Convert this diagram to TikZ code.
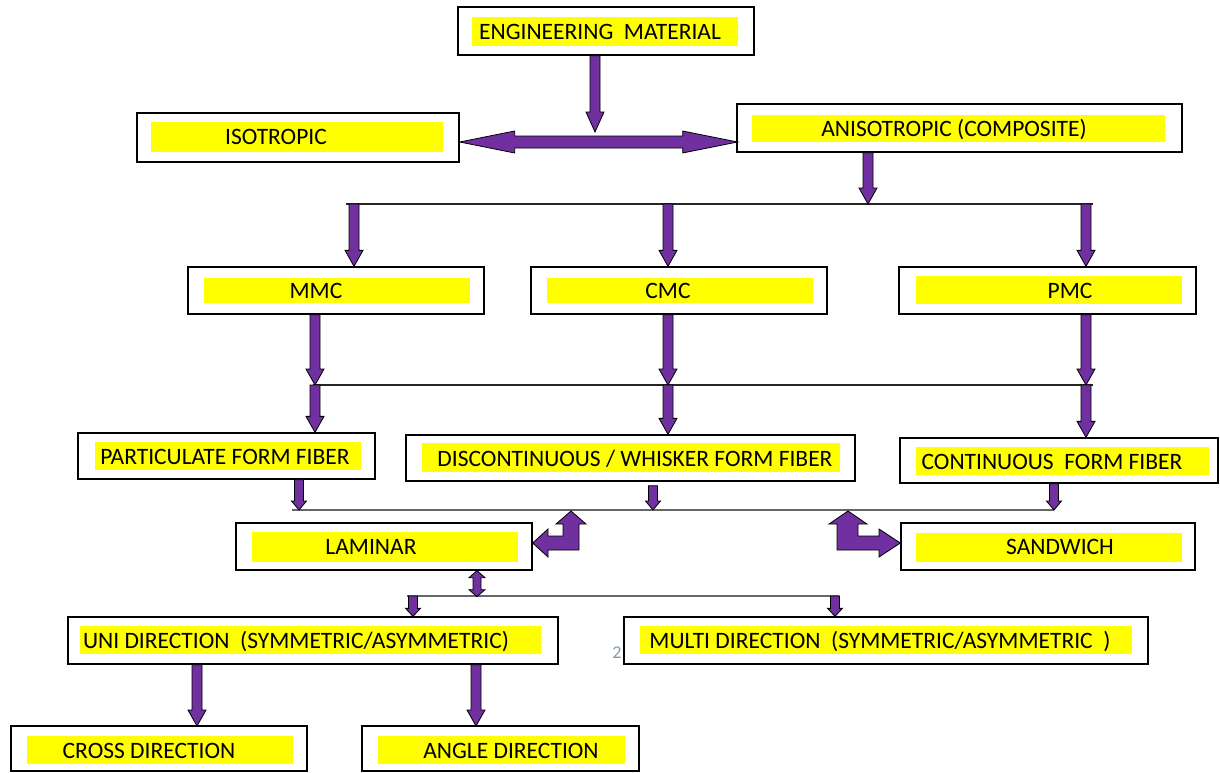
\documentclass[tikz,border=0pt]{standalone}
\usepackage{fontspec}
\setmainfont{Carlito}
\usetikzlibrary{calc}
\definecolor{arrowpurple}{HTML}{7030A0}
\definecolor{hly}{HTML}{FFFF00}
\definecolor{numgray}{RGB}{132,151,176}
% block arrow pointing down: x taken from end point, y from start to end
\newcommand\blockdown[3][16]{\filldraw[blk] let \p1=#2, \p2=#3 in
  (\x2-5pt,\y1) -- (\x2+5pt,\y1) -- (\x2+5pt,\y2+#1pt) -- (\x2+9pt,\y2+#1pt) -- (\x2,\y2)
  -- (\x2-9pt,\y2+#1pt) -- (\x2-5pt,\y2+#1pt) -- cycle;}
\newcommand\smalldown[3][9]{\filldraw[blk] let \p1=#2, \p2=#3 in
  (\x2-4.5pt,\y1) -- (\x2+4.5pt,\y1) -- (\x2+4.5pt,\y2+#1pt) -- (\x2+7.5pt,\y2+#1pt) -- (\x2,\y2)
  -- (\x2-7.5pt,\y2+#1pt) -- (\x2-4.5pt,\y2+#1pt) -- cycle;}
\begin{document}
\begin{tikzpicture}[x=1pt,y=-1pt,
  box/.style={draw=black,line width=1.3pt,fill=white,inner sep=0pt},
  hl/.style={fill=hly},
  lbl/.style={inner sep=0pt,text height=15pt,text depth=0pt,font=\fontsize{23.5}{27}\selectfont},
  blk/.style={fill=arrowpurple,draw=black,line width=0.8pt,line join=miter},
  bus/.style={draw=black!85,line width=1.4pt},
  busg/.style={draw=black!60,line width=1.8pt}]
\useasboundingbox (0,0) rectangle (1220,772);

% ---------- boxes ----------
\node[box,minimum width=296pt,minimum height=48pt] (eng) at (606,31) {};
\fill[hl] (472,17) rectangle (738,46);
\node[lbl] (engT) at (600,31.5) {ENGINEERING\ \ MATERIAL};

\node[box,minimum width=322pt,minimum height=49pt] (iso) at (298,137.5) {};
\fill[hl] (151,122) rectangle (443,152);
\node[lbl] (isoT) at (276,137) {ISOTROPIC};

\node[box,minimum width=445pt,minimum height=48pt] (aniso) at (959.5,128) {};
\fill[hl] (752,115) rectangle (1165,142);
\node[lbl] (anisoT) at (954,129) {ANISOTROPIC (COMPOSITE)};

\node[box,minimum width=296pt,minimum height=47pt] (mmc) at (336,290.5) {};
\fill[hl] (204,278) rectangle (470,303);
\node[lbl] (mmcT) at (316,291) {MMC};

\node[box,minimum width=296pt,minimum height=47pt] (cmc) at (679,290.5) {};
\fill[hl] (547,278) rectangle (813,303);
\node[lbl] (cmcT) at (668,291) {CMC};

\node[box,minimum width=297pt,minimum height=47pt] (pmc) at (1047.5,290.5) {};
\fill[hl] (916,276) rectangle (1182,304);
\node[lbl] (pmcT) at (1070,291) {PMC};

\node[box,minimum width=297pt,minimum height=46pt] (part) at (226.5,456) {};
\fill[hl] (95,442) rectangle (361,470);
\node[lbl] (partT) at (225,457) {PARTICULATE FORM FIBER};

\node[box,minimum width=449pt,minimum height=46pt] (disc) at (630.5,458) {};
\fill[hl] (422,443) rectangle (840,472);
\node[lbl] (discT) at (635,459) {DISCONTINUOUS / WHISKER FORM FIBER};

\node[box,minimum width=318pt,minimum height=45pt] (cont) at (1059,460.5) {};
\fill[hl] (916,447) rectangle (1209,475);
\node[lbl] (contT) at (1052,462) {CONTINUOUS\ \ FORM FIBER};

\node[box,minimum width=296pt,minimum height=47pt] (lam) at (384,546.5) {};
\fill[hl] (252,532) rectangle (518,562);
\node[lbl] (lamT) at (371,547) {LAMINAR};

\node[box,minimum width=294pt,minimum height=47pt] (sand) at (1048,546.5) {};
\fill[hl] (916,533) rectangle (1182,562);
\node[lbl] (sandT) at (1060,547) {SANDWICH};

\node[box,minimum width=490pt,minimum height=47pt] (uni) at (313,640.5) {};
\fill[hl] (80,626) rectangle (541,654);
\node[lbl] (uniT) at (296,641) {UNI DIRECTION\ \ (SYMMETRIC/ASYMMETRIC)};

\node[box,minimum width=524pt,minimum height=47pt] (multi) at (886,640.5) {};
\fill[hl] (640,626) rectangle (1132,654);
\node[lbl] (multiT) at (880,641) {MULTI DIRECTION\ \ (SYMMETRIC/ASYMMETRIC\ \ )};

\node[box,minimum width=296pt,minimum height=45pt] (cross) at (159,748.5) {};
\fill[hl] (27,736) rectangle (293,764);
\node[lbl] (crossT) at (149,751) {CROSS DIRECTION};

\node[box,minimum width=277pt,minimum height=45pt] (angle) at (500.5,748.5) {};
\fill[hl] (378,736) rectangle (625,764);
\node[lbl] (angleT) at (511,751) {ANGLE DIRECTION};

\node[text=numgray,inner sep=0pt,font=\fontsize{18}{20}\selectfont] (pg) at (617,653) {2};

% ---------- bus coordinates ----------
\coordinate (j0) at (595,132);
\coordinate (hc) at (598,142);
\coordinate (pa) at (868,204);
\coordinate (b1L) at (346,204);
\coordinate (b1R) at (1093,204);
\coordinate (p1) at (354,204);
\coordinate (p2) at (668,204);
\coordinate (p3) at (1086,204);
\coordinate (b2L) at (313,385);
\coordinate (b2R) at (1093,385);
\coordinate (q1) at (315,385);
\coordinate (q2) at (668,385);
\coordinate (q3) at (1086,385);
\coordinate (r0) at (292,510);
\coordinate (r1) at (299,510);
\coordinate (r2) at (653,510);
\coordinate (r3) at (1054,510);
\coordinate (s0) at (407,596);
\coordinate (s3) at (839,596);
\coordinate (s1) at (413,596);
\coordinate (s2) at (835,596);
\coordinate (u1) at (197,726);
\coordinate (u2) at (476,726);

% ---------- bus lines ----------
\draw[bus] (b1L) -- (b1R);
\draw[bus] (b2L) -- (b2R);
\draw[busg] (r0) -- (r3);
\draw[busg] (s0) -- (s3);

% ---------- arrows ----------
\filldraw[blk] let \p1=(eng.south), \p2=(j0) in
  (\x2-5pt,\y1) -- (\x2+5pt,\y1) -- (\x2+5pt,\y2+20pt) -- (\x2+9pt,\y2+20pt) -- (\x2,\y2)
  -- (\x2-9pt,\y2+20pt) -- (\x2-5pt,\y2+20pt) -- cycle;
\filldraw[blk] (iso.east |- hc) -- ++(55,-11) -- ++(0,5) -- ++(168,0) -- ++(0,-5) -- ++(55,11)
  -- ++(-55,11) -- ++(0,-5) -- ++(-168,0) -- ++(0,5) -- cycle;

\blockdown{(aniso.south)}{(pa)}
\blockdown{(p1)}{(mmc.north -| p1)}
\blockdown{(p2)}{(cmc.north -| p2)}
\blockdown{(p3)}{(pmc.north -| p3)}
\blockdown{(mmc.south)}{(q1)}
\blockdown{(cmc.south)}{(q2)}
\blockdown{(pmc.south)}{(q3)}
\blockdown{(q1)}{(part.north -| q1)}
\blockdown{(q2)}{(disc.north -| q2)}
\blockdown{(q3)}{(cont.north -| q3)}
\smalldown{(part.south)}{(r1)}
\smalldown{([yshift=-4pt]disc.south)}{(r2)}
\smalldown{(cont.south)}{(r3)}
\smalldown[8]{(s1)}{(uni.north -| s1)}
\smalldown[8]{(s2)}{(multi.north -| s2)}
\blockdown{(uni.south)}{(u1)}
\blockdown{(uni.south)}{(u2)}

% laminar double arrow
\filldraw[blk] (lam.south -| s0) ++(70,0) -- ++(8,7) -- ++(-4,0) -- ++(0,12) -- ++(4,0) -- ++(-8,7)
  -- ++(-8,-7) -- ++(4,0) -- ++(0,-12) -- ++(-4,0) -- cycle;

% bent arrow to laminar
\filldraw[blk] (571,511) -- (586,524) -- (579,524) -- (579,550) -- (548,550) -- (548,557)
  -- (lam.east |- 0,543) -- (548,529) -- (548,536) -- (563,536) -- (563,524) -- (556,524) -- cycle;
% bent arrow to sandwich
\filldraw[blk] (848,511) -- (867,524) -- (858,524) -- (858,536) -- (879,536) -- (879,529)
  -- (sand.west |- 0,543) -- (879,557) -- (879,550) -- (837,550) -- (837,524) -- (829,524) -- cycle;
\end{tikzpicture}
\end{document}
